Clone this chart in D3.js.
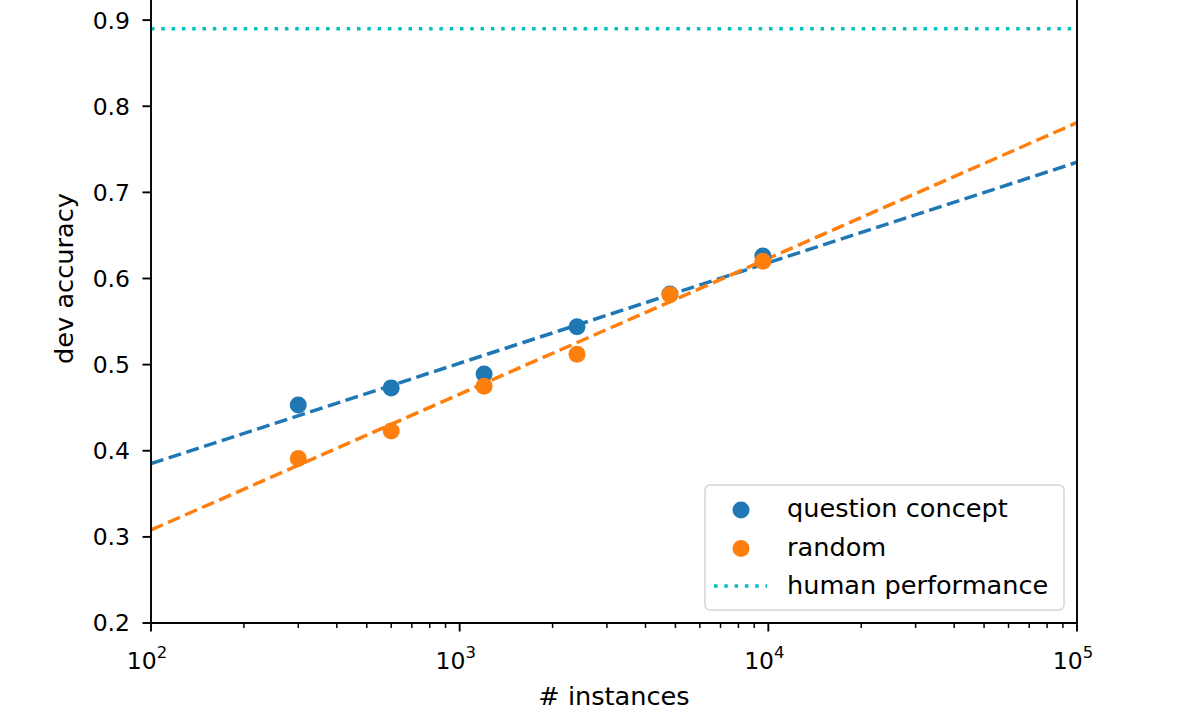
<!DOCTYPE html>
<html>
<head>
<meta charset="utf-8">
<script src="https://cdn.jsdelivr.net/npm/d3@7"></script>
<style>
  body { margin: 0; background: #ffffff; }
  text { font-family: "DejaVu Sans", sans-serif; fill: #000; }
</style>
</head>
<body>
<div id="chart"></div>
<script>
// data
var instances = [300, 600, 1200, 2400, 4800, 9600];
var question_concept = [0.453, 0.473, 0.489, 0.544, 0.582, 0.626];
var random_split = [0.391, 0.423, 0.475, 0.512, 0.581, 0.620];
var fit_x = [100, 100000];
var fit_question_concept = [0.385, 0.735];
var fit_random = [0.308, 0.781];
var human_performance = 0.89;
var y_ticks = [0.2, 0.3, 0.4, 0.5, 0.6, 0.7, 0.8, 0.9];
var x_ticks = [100, 1000, 10000, 100000];
var legend_labels = ['question concept', 'random', 'human performance'];

var width = 1196;
var height = 722;

var left = 151;
var right = 1077;
var bottom = 623;
var top_px = -66;

var tick_size = 23.5;
var label_size = 25.6;
var blue = '#1f77b4';
var orange = '#ff7f0e';
var cyan = '#00bfbf';

var x = d3.scaleLog().domain([100, 100000]).range([left, right]);
var y = d3.scaleLinear().domain([0.2, 1.0]).range([bottom, top_px]);

var svg = d3.select('#chart')
  .append('svg')
    .attr('width', width)
    .attr('height', height);

svg.append('rect')
    .attr('width', width)
    .attr('height', height)
    .attr('fill', '#ffffff');

svg.append('defs').append('clipPath')
    .attr('id', 'plot-clip')
  .append('rect')
    .attr('x', left)
    .attr('y', top_px)
    .attr('width', right - left)
    .attr('height', bottom - top_px);

var plot = svg.append('g').attr('clip-path', 'url(#plot-clip)');

// human performance
plot.append('line')
    .attr('x1', left)
    .attr('x2', right)
    .attr('y1', y(human_performance))
    .attr('y2', y(human_performance))
    .attr('stroke', cyan)
    .attr('stroke-width', 3.5)
    .attr('stroke-dasharray', '3.5,6.8');

// fit lines
var line = d3.line()
    .x(function(d) { return x(d[0]); })
    .y(function(d) { return y(d[1]); });

plot.append('path')
    .datum(d3.zip(fit_x, fit_question_concept))
    .attr('d', line)
    .attr('fill', 'none')
    .attr('stroke', blue)
    .attr('stroke-width', 3.5)
    .attr('stroke-dasharray', '13,5.6');

plot.append('path')
    .datum(d3.zip(fit_x, fit_random))
    .attr('d', line)
    .attr('fill', 'none')
    .attr('stroke', orange)
    .attr('stroke-width', 3.5)
    .attr('stroke-dasharray', '13,5.6');

// scatters
plot.append('g')
    .selectAll('circle')
    .data(d3.zip(instances, question_concept))
  .enter()
    .append('circle')
    .attr('cx', function(d) { return x(d[0]); })
    .attr('cy', function(d) { return y(d[1]); })
    .attr('r', 8.5)
    .attr('fill', blue);

plot.append('g')
    .selectAll('circle')
    .data(d3.zip(instances, random_split))
  .enter()
    .append('circle')
    .attr('cx', function(d) { return x(d[0]); })
    .attr('cy', function(d) { return y(d[1]); })
    .attr('r', 8.5)
    .attr('fill', orange);

// y axis
var y_axis = svg.append('g');
y_axis.selectAll('line')
    .data(y_ticks)
  .enter()
    .append('line')
    .attr('x1', left - 8.5)
    .attr('x2', left)
    .attr('y1', function(d) { return y(d); })
    .attr('y2', function(d) { return y(d); })
    .attr('stroke', '#000')
    .attr('stroke-width', 1.9);
y_axis.selectAll('text')
    .data(y_ticks)
  .enter()
    .append('text')
    .attr('x', left - 21)
    .attr('y', function(d) { return y(d); })
    .attr('dy', '0.36em')
    .attr('font-size', tick_size)
    .style('text-anchor', 'end')
    .text(function(d) { return d.toFixed(1); });

// x axis, major and minor ticks
var minor = [];
for (var e = 2; e < 5; e++) {
    for (var m = 2; m < 10; m++) {
        minor.push(m * Math.pow(10, e));
    }
}
var x_axis = svg.append('g');
x_axis.selectAll('line.minor')
    .data(minor)
  .enter()
    .append('line')
    .attr('class', 'minor')
    .attr('x1', function(d) { return x(d); })
    .attr('x2', function(d) { return x(d); })
    .attr('y1', bottom)
    .attr('y2', bottom + 5)
    .attr('stroke', '#000')
    .attr('stroke-width', 1.5);
x_axis.selectAll('line.major')
    .data(x_ticks)
  .enter()
    .append('line')
    .attr('class', 'major')
    .attr('x1', function(d) { return x(d); })
    .attr('x2', function(d) { return x(d); })
    .attr('y1', bottom)
    .attr('y2', bottom + 8.5)
    .attr('stroke', '#000')
    .attr('stroke-width', 1.9);
var x_labels = x_axis.selectAll('text')
    .data(x_ticks)
  .enter()
    .append('text')
    .attr('x', function(d) { return x(d) - 4; })
    .attr('y', 669)
    .attr('font-size', tick_size)
    .style('text-anchor', 'middle');
x_labels.append('tspan').text('10');
x_labels.append('tspan')
    .attr('dy', -11)
    .attr('font-size', tick_size * 0.7)
    .text(function(d) { return Math.round(Math.log10(d)); });

// spines
svg.append('path')
    .attr('d', 'M' + left + ',' + top_px + 'V' + bottom + 'H' + right + 'V' + top_px)
    .attr('fill', 'none')
    .attr('stroke', '#000')
    .attr('stroke-width', 1.9);

// axis labels
svg.append('text')
    .attr('x', (left + right) / 2)
    .attr('y', 705)
    .attr('font-size', label_size)
    .style('text-anchor', 'middle')
    .text('# instances');

svg.append('text')
    .attr('transform', 'translate(73,' + ((top_px + bottom) / 2) + ') rotate(-90)')
    .attr('font-size', label_size)
    .style('text-anchor', 'middle')
    .text('dev accuracy');

// legend
var legend = svg.append('g');
legend.append('rect')
    .attr('x', 705)
    .attr('y', 485)
    .attr('width', 359)
    .attr('height', 125)
    .attr('rx', 5)
    .attr('fill', '#ffffff')
    .attr('fill-opacity', 0.8)
    .attr('stroke', '#d5d5d5')
    .attr('stroke-width', 1.5);

var legend_colors = [blue, orange, cyan];
legend.selectAll('text')
    .data(legend_labels)
  .enter()
    .append('text')
    .attr('x', 787)
    .attr('y', function(d, i) { return 508 + i * 38.5; })
    .attr('dy', '0.36em')
    .attr('font-size', label_size)
    .text(function(d) { return d; });

legend.selectAll('circle')
    .data(legend_labels.slice(0, 2))
  .enter()
    .append('circle')
    .attr('cx', 741)
    .attr('cy', function(d, i) { return 510 + i * 38.5; })
    .attr('r', 8.5)
    .attr('fill', function(d, i) { return legend_colors[i]; });

legend.append('line')
    .attr('x1', 714)
    .attr('x2', 767)
    .attr('y1', 586)
    .attr('y2', 586)
    .attr('stroke', cyan)
    .attr('stroke-width', 3.5)
    .attr('stroke-dasharray', '3.5,6.8');
</script>
</body>
</html>
